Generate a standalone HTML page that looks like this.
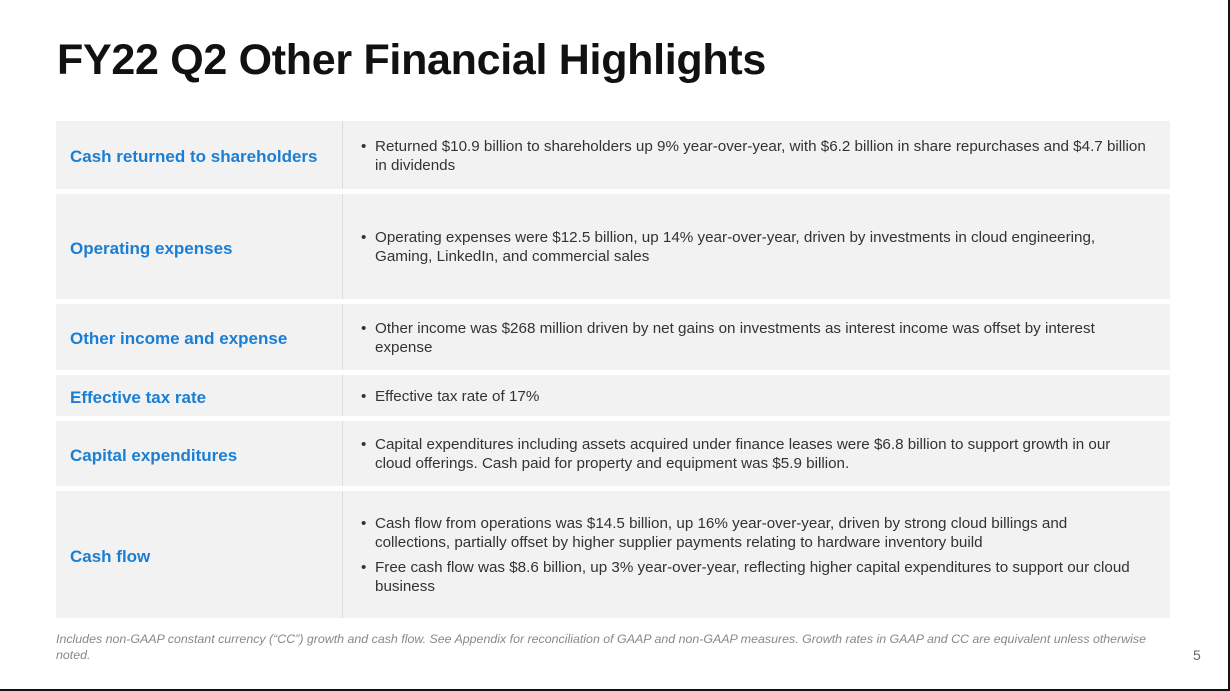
<!DOCTYPE html>
<html><head><meta charset="utf-8"><style>
body{margin:0;width:1230px;height:691px;overflow:hidden;background:#fff;font-family:"Liberation Sans",sans-serif;position:relative}
#frame{position:absolute;left:0;top:0;width:1228px;height:689px;border-right:2px solid #111;border-bottom:2px solid #111;box-sizing:content-box}
h1{position:absolute;left:57px;top:36px;margin:0;font-size:43px;font-weight:bold;color:#111;letter-spacing:-0.3px;white-space:nowrap}
.row{position:absolute;left:56px;width:1114px;background:#f2f2f2}
.lab{position:absolute;left:0;top:0;bottom:0;width:287px;border-right:1px solid #dcdcdc;display:flex;align-items:center;padding-left:14px;padding-top:4px;box-sizing:border-box;color:#1a7fd4;font-size:17px;font-weight:bold;white-space:nowrap}
.txt{position:absolute;left:305px;top:0;bottom:0;display:flex;flex-direction:column;justify-content:center;font-size:15.2px;color:#333;line-height:19px;white-space:nowrap;padding-top:1px}
.b{position:relative;padding-left:14px;margin:3px 0}
.b:before{content:"•";position:absolute;left:0;top:0}
#foot{position:absolute;left:56px;top:631px;font-size:12.4px;font-style:italic;color:#888;line-height:16px;width:1120px}
#pg{position:absolute;left:1193px;top:647px;font-size:14px;color:#666}
</style></head><body>
<div id="frame"></div>
<h1>FY22 Q2 Other Financial Highlights</h1>
<div class="row" style="top:121px;height:68px"><div class="lab">Cash returned to shareholders</div><div class="txt"><div class="b">Returned $10.9 billion to shareholders up 9% year-over-year, with $6.2 billion in share repurchases and $4.7 billion<br>in dividends</div></div></div>
<div class="row" style="top:194px;height:105px"><div class="lab">Operating expenses</div><div class="txt"><div class="b">Operating expenses were $12.5 billion, up 14% year-over-year, driven by investments in cloud engineering,<br>Gaming, LinkedIn, and commercial sales</div></div></div>
<div class="row" style="top:304px;height:66px"><div class="lab">Other income and expense</div><div class="txt"><div class="b">Other income was $268 million driven by net gains on investments as interest income was offset by interest<br>expense</div></div></div>
<div class="row" style="top:375px;height:41px"><div class="lab">Effective tax rate</div><div class="txt"><div class="b">Effective tax rate of 17%</div></div></div>
<div class="row" style="top:421px;height:65px"><div class="lab">Capital expenditures</div><div class="txt"><div class="b">Capital expenditures including assets acquired under finance leases were $6.8 billion to support growth in our<br>cloud offerings. Cash paid for property and equipment was $5.9 billion.</div></div></div>
<div class="row" style="top:491px;height:127px"><div class="lab">Cash flow</div><div class="txt"><div class="b">Cash flow from operations was $14.5 billion, up 16% year-over-year, driven by strong cloud billings and<br>collections, partially offset by higher supplier payments relating to hardware inventory build</div><div class="b">Free cash flow was $8.6 billion, up 3% year-over-year, reflecting higher capital expenditures to support our cloud<br>business</div></div></div>
<div id="foot">Includes non-GAAP constant currency (“CC”) growth and cash flow. See Appendix for reconciliation of GAAP and non-GAAP measures. Growth rates in GAAP and CC are equivalent unless otherwise<br>noted.</div>
<div id="pg">5</div>
</body></html>
